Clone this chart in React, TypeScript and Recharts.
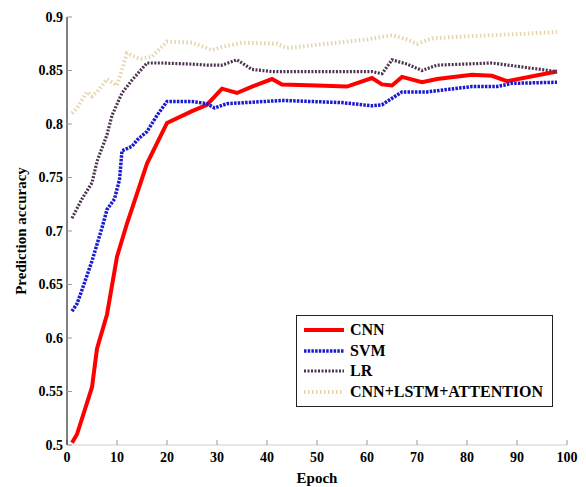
import React from "react";
import { LineChart, Line, XAxis, YAxis, Legend, Label } from "recharts";

const xTicks = [0, 10, 20, 30, 40, 50, 60, 70, 80, 90, 100];
const yTicks = [0.5, 0.55, 0.6, 0.65, 0.7, 0.75, 0.8, 0.85, 0.9];
const seriesNames = ["CNN", "SVM", "LR", "CNN+LSTM+ATTENTION"];

const cnnEpochs = [1, 2, 5, 6, 8, 10, 12, 14, 16, 20, 25, 28, 31, 34, 37, 41, 43, 50, 56, 61, 63, 65, 67, 71, 74, 81, 85, 88, 98];
const cnnValues = [0.502, 0.51, 0.554, 0.59, 0.622, 0.676, 0.707, 0.735, 0.763, 0.801, 0.812, 0.818, 0.833, 0.829, 0.835, 0.842, 0.837, 0.836, 0.835, 0.843, 0.837, 0.836, 0.844, 0.839, 0.842, 0.846, 0.845, 0.84, 0.849];

const svmEpochs = [1, 2, 3, 5, 7, 8, 9.5, 10.5, 11, 13, 14, 16, 18, 20, 25, 28, 29.5, 32, 43, 55, 61, 63, 67, 72, 81, 86, 89, 98];
const svmValues = [0.625, 0.632, 0.645, 0.672, 0.703, 0.72, 0.73, 0.748, 0.775, 0.779, 0.785, 0.793, 0.808, 0.821, 0.821, 0.819, 0.815, 0.819, 0.822, 0.82, 0.817, 0.818, 0.83, 0.83, 0.835, 0.835, 0.838, 0.839];

const lrEpochs = [1, 3, 5, 6, 8, 9, 11, 13, 16, 19, 25, 28, 31, 34, 37, 41, 61, 63, 65, 68, 71, 74, 85, 98];
const lrValues = [0.712, 0.73, 0.745, 0.765, 0.79, 0.808, 0.829, 0.841, 0.857, 0.857, 0.856, 0.855, 0.855, 0.86, 0.851, 0.849, 0.849, 0.847, 0.86, 0.856, 0.85, 0.855, 0.857, 0.849];

const attEpochs = [1, 2, 4, 5, 6, 8, 10, 12, 14, 15, 17, 20, 25, 29, 31, 35, 42, 44, 50, 60, 65, 68, 70, 73, 80, 90, 98];
const attValues = [0.81, 0.815, 0.83, 0.826, 0.83, 0.842, 0.836, 0.866, 0.862, 0.861, 0.863, 0.877, 0.876, 0.869, 0.872, 0.876, 0.875, 0.871, 0.874, 0.879, 0.883, 0.879, 0.875, 0.88, 0.882, 0.884, 0.886];

const toRows = (xs: number[], ys: number[]) => xs.map((x, i) => ({ epoch: x, value: ys[i] }));

const FONT = "'Liberation Serif', 'Times New Roman', serif";

const LegendBox = (props: any) => {
  const items = [...(props.payload || [])].sort(
    (a: any, b: any) => seriesNames.indexOf(a.value) - seriesNames.indexOf(b.value)
  );
  return (
    <div
      style={{
        border: "1px solid #222",
        background: "#fff",
        width: 257,
        height: 92,
        boxSizing: "border-box",
        padding: "4px 0 0 6px",
        fontFamily: FONT,
        fontWeight: "bold",
        fontSize: 16,
        color: "#000",
        textAlign: "left",
      }}
    >
      {items.map((p: any, i: number) => (
        <div key={i} style={{ display: "flex", alignItems: "center", height: 20.5 }}>
          <svg width={44} height={10} style={{ marginRight: 3 }}>
            <line
              x1={1}
              x2={41}
              y1={5}
              y2={5}
              stroke={p.color}
              strokeWidth={p.payload?.strokeWidth ?? 3}
              strokeDasharray={p.payload?.strokeDasharray}
            />
          </svg>
          <span>{p.value}</span>
        </div>
      ))}
    </div>
  );
};

export default function App() {
  return (
    <LineChart width={570} height={479} margin={{ top: 9, right: 11, bottom: 0, left: 0 }}>
      <XAxis
        dataKey="epoch"
        type="number"
        domain={[0, 100]}
        ticks={xTicks}
        allowDataOverflow
        height={42}
        tickSize={-5}
        tickMargin={12}
        axisLine={{ stroke: "#cfcfcf" }}
        tickLine={{ stroke: "#999" }}
        tick={{ fill: "#000", fontFamily: FONT, fontWeight: "bold", fontSize: 14 }}
      >
        <Label value="Epoch" position="insideBottom" offset={4} style={{ fill: "#000", fontFamily: FONT, fontWeight: "bold", fontSize: 15 }} />
      </XAxis>
      <XAxis
        xAxisId="top"
        orientation="top"
        type="number"
        domain={[0, 100]}
        ticks={xTicks}
        height={0}
        tickSize={-5}
        tick={false}
        axisLine={{ stroke: "#cfcfcf" }}
        tickLine={{ stroke: "#999" }}
      />
      <YAxis
        type="number"
        domain={[0.5, 0.9]}
        ticks={yTicks}
        allowDataOverflow
        width={59}
        tickSize={-5}
        tickMargin={9}
        axisLine={{ stroke: "#000" }}
        tickLine={{ stroke: "#999" }}
        tick={{ fill: "#000", fontFamily: FONT, fontWeight: "bold", fontSize: 14 }}
      >
        <Label
          value="Prediction accuracy"
          angle={-90}
          position="insideLeft"
          offset={13}
          style={{ textAnchor: "middle", fill: "#000", fontFamily: FONT, fontWeight: "bold", fontSize: 15 }}
        />
      </YAxis>
      <YAxis
        yAxisId="right"
        orientation="right"
        type="number"
        domain={[0.5, 0.9]}
        ticks={yTicks}
        width={0}
        tickSize={-5}
        tick={false}
        axisLine={{ stroke: "#bdbdbd" }}
        tickLine={{ stroke: "#999" }}
      />
      <Legend
        content={<LegendBox />}
        layout="vertical"
        align="center"
        verticalAlign="middle"
        wrapperStyle={{ position: "absolute", left: 288, top: 307, width: 257, height: 92 }}
      />
      <Line
        data={toRows(cnnEpochs, cnnValues)}
        dataKey="value"
        name="CNN"
        stroke="#ff0000"
        strokeWidth={4}
        dot={false}
        isAnimationActive={false}
      />
      <Line
        data={toRows(svmEpochs, svmValues)}
        dataKey="value"
        name="SVM"
        stroke="#1a1ad0"
        strokeWidth={3.5}
        strokeDasharray="2.5 1.2"
        dot={false}
        isAnimationActive={false}
      />
      <Line
        data={toRows(lrEpochs, lrValues)}
        dataKey="value"
        name="LR"
        stroke="#4e3450"
        strokeWidth={3.2}
        strokeDasharray="2 1.5"
        dot={false}
        isAnimationActive={false}
      />
      <Line
        data={toRows(attEpochs, attValues)}
        dataKey="value"
        name="CNN+LSTM+ATTENTION"
        stroke="#e6d4ab"
        strokeWidth={4}
        strokeDasharray="1.5 2.5"
        dot={false}
        isAnimationActive={false}
      />
    </LineChart>
  );
}
